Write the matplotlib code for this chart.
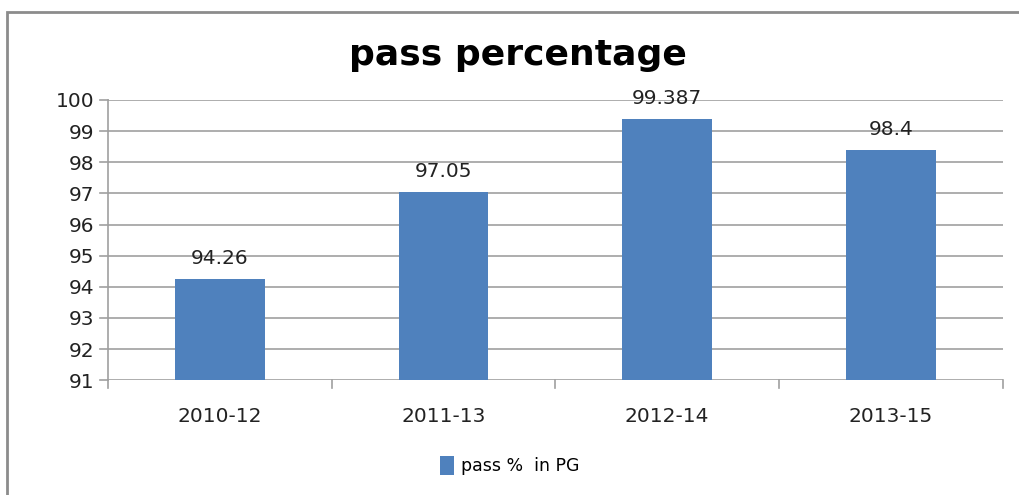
import matplotlib.pyplot as plt
from matplotlib.patches import Rectangle

periods = ['2010-12', '2011-13', '2012-14', '2013-15']
pass_pg = [94.26, 97.05, 99.387, 98.4]
value_labels = ['94.26', '97.05', '99.387', '98.4']
yticks = [91, 92, 93, 94, 95, 96, 97, 98, 99, 100]

bar_color = '#4f81bd'
grid_color = '#a0a0a0'

fig = plt.figure(figsize=(10.19, 4.95), dpi=100)
ax = fig.add_axes([0.106, 0.232, 0.878, 0.566])

x = range(len(periods))
bars = ax.bar(x, pass_pg, width=0.4, color=bar_color, bottom=0, zorder=3,
              label='pass %  in PG')
ax.set_ylim(91, 100)
ax.set_xlim(-0.5, 3.5)
ax.set_yticks(yticks)
ax.set_xticks(list(x))
ax.set_xticklabels(periods)
ax.tick_params(axis='x', labelsize=14.5, colors='#222222', length=0, pad=19)
ax.tick_params(axis='y', labelsize=14.5, colors='#222222', length=0, pad=10)
ax.yaxis.grid(True, color=grid_color, linewidth=1.2, zorder=0)

for side in ['top', 'right', 'bottom']:
    ax.spines[side].set_visible(False)
ax.spines['left'].set_color(grid_color)
ax.spines['left'].set_linewidth(1.2)

# small ticks drawn like the original (outside the axes)
for t in yticks:
    ax.plot([-0.535, -0.5], [t, t], color=grid_color, lw=1.2, clip_on=False)
for b in [-0.5, 0.5, 1.5, 2.5, 3.5]:
    ax.plot([b, b], [91, 90.75], color=grid_color, lw=1.2, clip_on=False)

for i, v in enumerate(pass_pg):
    ax.annotate(value_labels[i], (i, v), xytext=(0, 8), textcoords='offset points',
                ha='center', va='bottom', fontsize=14.5, color='#222222')

fig.text(0.508, 0.888, 'pass percentage', ha='center', va='center',
         fontsize=26, fontweight='bold', color='black')

leg = fig.legend(handles=[bars], loc='center', bbox_to_anchor=(0.5, 0.06),
                 frameon=False, fontsize=12.5, handlelength=0.8, handleheight=1.3,
                 handletextpad=0.4)

fig.patches.append(Rectangle((7 / 1019, -0.1), 1.2, 1 - 12 / 495 + 0.1,
                             transform=fig.transFigure, fill=False,
                             edgecolor='#8c8c8c', linewidth=2))

fig.savefig('out.png', dpi=100)
